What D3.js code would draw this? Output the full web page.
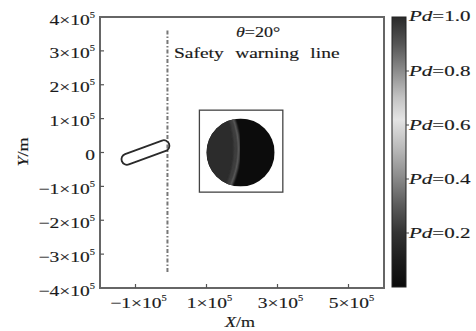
<!DOCTYPE html>
<html>
<head>
<meta charset="utf-8">
<script src="https://cdn.jsdelivr.net/npm/d3@7/dist/d3.min.js"></script>
<style>
  html, body { margin: 0; padding: 0; background: #fff; }
  svg { display: block; }
  text { font-family: "Liberation Serif", "DejaVu Serif", serif; fill: #1a1a1a; stroke: #1a1a1a; stroke-width: 0.15; }
</style>
</head>
<body>
<div id="chart"></div>
<script>
// axis ticks (in metres)
const xTicks = [-1e5, 1e5, 3e5, 5e5];
const yTicks = [4e5, 3e5, 2e5, 1e5, 0, -1e5, -2e5, -3e5, -4e5];
const pdTicks = [1.0, 0.8, 0.6, 0.4, 0.2];

// colour bar stops: [Pd, grey]
const pdStops = [
  [0.0, '#0a0a0a'], [0.1, '#1c1c1c'], [0.2, '#333'], [0.3, '#5a5a5a'],
  [0.4, '#888'], [0.5, '#b4b4b4'], [0.62, '#e4e4e4'], [0.7, '#c4c4c4'],
  [0.8, '#8c8c8c'], [0.9, '#555'], [1.0, '#2a2a2a']
];

// vessel outline (capsule), centreline ends in metres
const capsuleEnds = [[-1.24e5, -0.2e5], [-0.2e5, 0.2e5]];
// safety warning line
const safetyX = -0.1e5;
const safetyY = [3.6e5, -3.55e5];
// inset probability map
const insetBox = [[0.8e5, 1.25e5], [3.15e5, -1.17e5]];
const insetCircle = { x: 1.96e5, y: 0, r: 0.96e5 };

const W = 476, H = 331;
const m = { left: 100, right: 384, top: 17, bottom: 288 };
const xScale = d3.scaleLinear().domain([-2e5, 6e5]).range([m.left, m.right]);
const yScale = d3.scaleLinear().domain([-4e5, 4e5]).range([m.bottom, m.top]);
const cScale = d3.scaleLinear().domain([0, 1]).range([287, 17]);

const svg = d3.select('#chart').append('svg').attr('width', W).attr('height', H);
const defs = svg.append('defs');

function sciLabel(g, v) {
  if (v === 0) { g.append('tspan').text('0'); return; }
  const mant = v / 1e5;
  g.append('tspan').text((mant < 0 ? '\u2212' : '') + Math.abs(mant) + '\u00d710');
  g.append('tspan').attr('dy', -7).attr('font-size', 8).text('5');
}

function wideText(x, y, anchor, size, sx) {
  return svg.append('g').attr('transform', `translate(${x},${y}) scale(${sx || 1.3},1)`)
    .append('text').attr('text-anchor', anchor).attr('font-size', size);
}

// colour bar gradient
const grad = defs.append('linearGradient').attr('id', 'pd')
  .attr('x1', 0).attr('y1', 1).attr('x2', 0).attr('y2', 0);
grad.selectAll('stop').data(pdStops).enter().append('stop')
  .attr('offset', d => d[0]).attr('stop-color', d => d[1]);

// inset circle clip
const cx = xScale(insetCircle.x), cy = yScale(insetCircle.y);
const r = xScale(insetCircle.r) - xScale(0);
defs.append('clipPath').attr('id', 'circ')
  .append('circle').attr('cx', cx).attr('cy', cy).attr('r', r);

const blur = defs.append('filter').attr('id', 'soft');
blur.append('feGaussianBlur').attr('stdDeviation', 0.8);

// safety warning line
svg.append('line')
  .attr('x1', xScale(safetyX)).attr('x2', xScale(safetyX))
  .attr('y1', yScale(safetyY[0])).attr('y2', yScale(safetyY[1]))
  .attr('stroke', '#777').attr('stroke-width', 2)
  .attr('stroke-dasharray', '4,2,1.5,2');

// capsule
const [p0, p1] = capsuleEnds.map(d => [xScale(d[0]), yScale(d[1])]);
const ang = Math.atan2(p1[1] - p0[1], p1[0] - p0[0]) * 180 / Math.PI;
const len = Math.hypot(p1[0] - p0[0], p1[1] - p0[1]);
const capW = 11;
svg.append('rect')
  .attr('x', -capW / 2).attr('y', -capW / 2)
  .attr('width', len + capW).attr('height', capW)
  .attr('rx', capW / 2).attr('ry', capW / 2)
  .attr('transform', `translate(${p0[0]},${p0[1]}) rotate(${ang})`)
  .attr('fill', 'none').attr('stroke', '#2a2a2a').attr('stroke-width', 1.8);

// inset
svg.append('rect')
  .attr('x', xScale(insetBox[0][0])).attr('y', yScale(insetBox[0][1]))
  .attr('width', xScale(insetBox[1][0]) - xScale(insetBox[0][0]))
  .attr('height', yScale(insetBox[1][1]) - yScale(insetBox[0][1]))
  .attr('fill', '#fff').attr('stroke', '#444').attr('stroke-width', 1.3);

const ins = svg.append('g').attr('clip-path', 'url(#circ)');
ins.append('rect').attr('x', cx - r).attr('y', cy - r).attr('width', 2 * r).attr('height', 2 * r)
  .attr('fill', '#0c0c0c');
// left grey region bounded by a bulging arc
const arcPath = `M${cx - r - 2},${cy - r - 2} L${cx - 8},${cy - r - 2} Q${cx + 6},${cy} ${cx - 11},${cy + r + 2} L${cx - r - 2},${cy + r + 2} Z`;
ins.append('path').attr('d', arcPath).attr('fill', '#2c2c2c');
ins.append('path')
  .attr('d', `M${cx - 8},${cy - r - 2} Q${cx + 6},${cy} ${cx - 11},${cy + r + 2}`)
  .attr('fill', 'none').attr('stroke', '#8a8a8a').attr('stroke-width', 1.6)
  .attr('filter', 'url(#soft)');
ins.append('path')
  .attr('d', `M${cx - 11},${cy - r - 2} Q${cx + 2},${cy} ${cx - 14},${cy + r + 2}`)
  .attr('fill', 'none').attr('stroke', '#4a4a4a').attr('stroke-width', 2)
  .attr('filter', 'url(#soft)');

// frame
svg.append('rect')
  .attr('x', m.left).attr('y', m.top)
  .attr('width', m.right - m.left).attr('height', m.bottom - m.top)
  .attr('fill', 'none').attr('stroke', '#666').attr('stroke-width', 2);

// ticks (inward)
svg.selectAll('.yt').data(yTicks.slice(1, -1)).enter().append('line')
  .attr('x1', m.left).attr('x2', m.left + 4)
  .attr('y1', d => yScale(d)).attr('y2', d => yScale(d))
  .attr('stroke', '#555').attr('stroke-width', 1.2);
svg.selectAll('.xt').data(xTicks).enter().append('line')
  .attr('x1', d => xScale(d)).attr('x2', d => xScale(d))
  .attr('y1', m.bottom).attr('y2', m.bottom - 4)
  .attr('stroke', '#555').attr('stroke-width', 1.2);

// tick labels
yTicks.forEach(v => sciLabel(wideText(95, yScale(v) + 7.5, 'end', 15), v));
xTicks.forEach(v => sciLabel(wideText(xScale(v) + 3, 308, 'middle', 15), v));

// axis titles
const xl = wideText(240, 327, 'middle', 15, 1.2);
xl.append('tspan').attr('font-style', 'italic').text('X');
xl.append('tspan').text('/m');
const yl = svg.append('g').attr('transform', 'translate(28,152) rotate(-90) scale(1.2,1)')
  .append('text').attr('font-size', 15).attr('text-anchor', 'middle');
yl.append('tspan').attr('font-style', 'italic').text('Y');
yl.append('tspan').text('/m');

// annotations
const th = wideText(258, 37, 'middle', 15, 1.2);
th.append('tspan').attr('font-style', 'italic').text('\u03b8');
th.append('tspan').text('=20\u00b0');
wideText(174, 58, 'start', 15, 1.3).attr('word-spacing', 5).text('Safety warning line');

// colour bar
svg.append('rect').attr('x', 392).attr('y', cScale(1)).attr('width', 14)
  .attr('height', cScale(0) - cScale(1))
  .attr('fill', 'url(#pd)').attr('stroke', '#222').attr('stroke-width', 1);
svg.selectAll('.ct').data(pdTicks.slice(1)).enter().append('line')
  .attr('x1', 406).attr('x2', 409)
  .attr('y1', d => cScale(d)).attr('y2', d => cScale(d))
  .attr('stroke', '#444');
pdTicks.forEach(v => {
  const t = wideText(409, cScale(v) + 5 + (v === 1 ? -1 : 0), 'start', 14, 1.5);
  t.append('tspan').attr('font-style', 'italic').text('Pd');
  t.append('tspan').text('=' + v.toFixed(1));
});
</script>
</body>
</html>
